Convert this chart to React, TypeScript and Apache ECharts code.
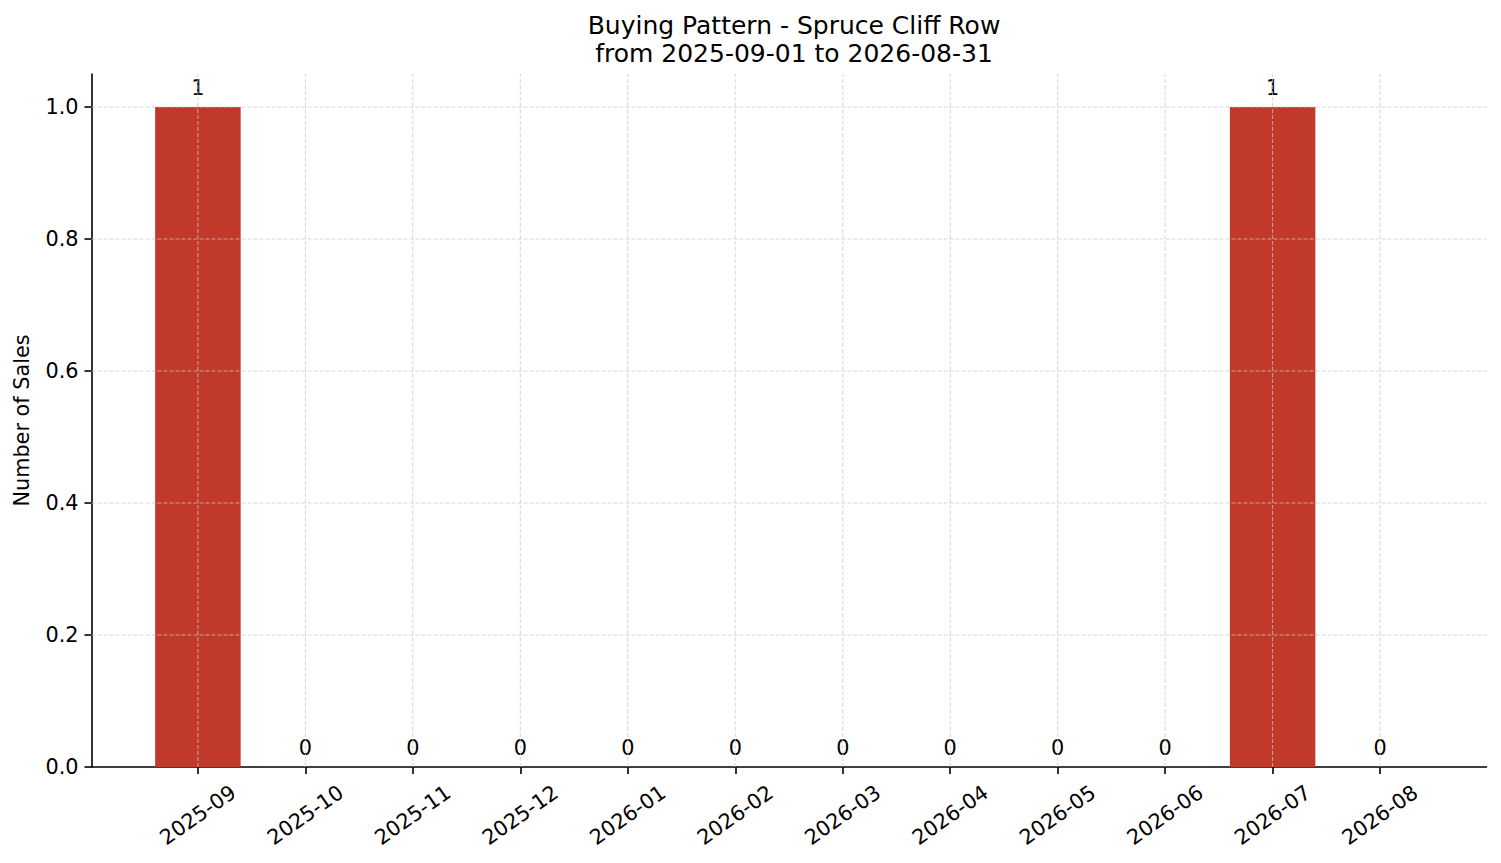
import React, { useEffect, useRef } from "react";
import * as echarts from "echarts";

const months = [
  "2025-09", "2025-10", "2025-11", "2025-12", "2026-01", "2026-02",
  "2026-03", "2026-04", "2026-05", "2026-06", "2026-07", "2026-08",
];
const sales = [1, 0, 0, 0, 0, 0, 0, 0, 0, 0, 1, 0];
const yTicks = [0, 0.2, 0.4, 0.6, 0.8, 1.0];
const titleLines = ["Buying Pattern - Spruce Cliff Row", "from 2025-09-01 to 2026-08-31"];
const yAxisTitle = "Number of Sales";

const FONT = "DejaVu Sans";
const X_MIN = -0.99;
const X_MAX = 11.99;
const Y_MAX = 1.05;

export default function App() {
  const ref = useRef<HTMLDivElement>(null);
  useEffect(() => {
    if (!ref.current) return;
    const chart = echarts.init(ref.current, null, { renderer: "svg" });
    const xIdx = months.map((_, i) => i);
    const gridLineStyle = { stroke: "#c8c8c8", opacity: 0.75, lineWidth: 1, lineDash: [4, 2] };
    chart.setOption({
      animation: false,
      backgroundColor: "#ffffff",
      textStyle: { fontFamily: FONT },
      title: {
        text: titleLines.join("\n"),
        left: 789,
        top: 6,
        textAlign: "center",
        textStyle: { fontFamily: FONT, fontSize: 25, fontWeight: "normal", color: "#000", lineHeight: 28 },
      },
      grid: { left: 91.5, right: 14.5, top: 74, bottom: 96, containLabel: false },
      xAxis: {
        type: "value",
        min: X_MIN,
        max: X_MAX,
        axisLine: { show: true, onZero: false, lineStyle: { color: "#000", width: 1.6 } },
        axisTick: { show: true, length: 7, lineStyle: { color: "#000", width: 1.6 }, customValues: xIdx },
        axisLabel: {
          customValues: xIdx,
          formatter: (v: number) => months[Math.round(v)] ?? "",
          rotate: 35,
          align: "center",
          verticalAlign: "middle",
          margin: 48,
          fontSize: 20.8,
          color: "#000",
          fontFamily: FONT,
        },
        splitLine: { show: false },
      },
      yAxis: {
        type: "value",
        min: 0,
        max: Y_MAX,
        name: yAxisTitle,
        nameLocation: "middle",
        nameGap: 59,
        nameRotate: 90,
        nameTextStyle: { fontSize: 20.8, color: "#000", fontFamily: FONT },
        axisLine: { show: true, onZero: false, lineStyle: { color: "#000", width: 1.6 } },
        axisTick: { show: true, length: 7, lineStyle: { color: "#000", width: 1.6 }, customValues: yTicks },
        axisLabel: {
          customValues: yTicks,
          formatter: (v: number) => v.toFixed(1),
          margin: 13,
          fontSize: 20.8,
          color: "#000",
          fontFamily: FONT,
        },
        splitLine: { show: false },
      },
      series: [
        {
          type: "bar",
          data: sales.map((v, i) => [i, v]),
          barWidth: 85.5,
          itemStyle: { color: "#c0392b" },
          z: 2,
          label: {
            show: true,
            position: "top",
            distance: 9,
            fontSize: 20.8,
            color: "#000",
            fontFamily: FONT,
            formatter: (p: any) => String(p.value[1]),
          },
        },
        {
          type: "custom",
          silent: true,
          z: 3,
          data: xIdx.map((i) => [i]),
          renderItem: (params: any, api: any) => {
            const x = api.value(0);
            const p0 = api.coord([x, 0]);
            const p1 = api.coord([x, Y_MAX]);
            return {
              type: "line",
              shape: { x1: p0[0], y1: p0[1], x2: p1[0], y2: p1[1] },
              style: gridLineStyle,
            };
          },
        },
        {
          type: "custom",
          silent: true,
          z: 3,
          data: yTicks.filter((v) => v > 0).map((v) => [0, v]),
          renderItem: (params: any, api: any) => {
            const y = api.value(1);
            const p0 = api.coord([X_MIN, y]);
            const p1 = api.coord([X_MAX, y]);
            return {
              type: "line",
              shape: { x1: p0[0], y1: p0[1], x2: p1[0], y2: p1[1] },
              style: gridLineStyle,
            };
          },
        },
      ],
    });
    return () => chart.dispose();
  }, []);
  return (
    <div
      ref={ref}
      style={{ position: "fixed", left: 0, top: 0, width: 1501, height: 863, background: "#fff" }}
    />
  );
}
